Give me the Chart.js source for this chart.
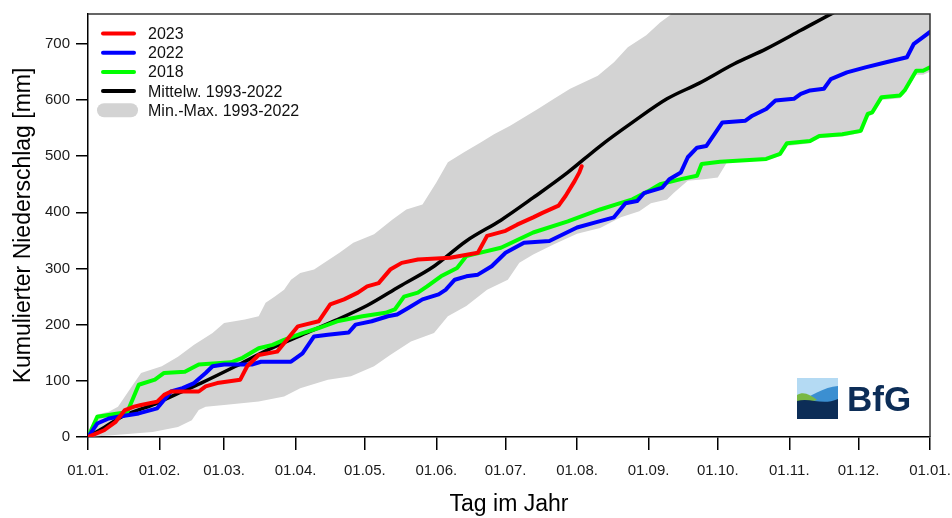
<!DOCTYPE html>
<html>
<head>
<meta charset="utf-8">
<script src="https://cdn.jsdelivr.net/npm/chart.js@4.4.0/dist/chart.umd.min.js"></script>
<style>
  body { margin: 0; background: #fff; }
  canvas { display: block; }
</style>
</head>
<body>
<canvas id="niederschlagChart" width="952" height="518"></canvas>
<script>
// x axis: day of year, ticks at the first of each month
const monthDays = [0, 31, 59, 90, 120, 151, 181, 212, 243, 273, 304, 334, 365];
const monthLabels = ['01.01.', '01.02.', '01.03.', '01.04.', '01.05.', '01.06.', '01.07.', '01.08.', '01.09.', '01.10.', '01.11.', '01.12.', '01.01.'];
const yTicks = [0, 100, 200, 300, 400, 500, 600, 700];

// 2023
const days2023 = [0, 7, 12, 16, 20, 23, 30, 33, 36, 48, 51, 56, 66, 69, 74, 82, 85, 91, 100, 105, 111, 117, 121, 126, 131, 136, 143, 157, 169, 173, 181, 186, 193, 197, 204, 207, 211, 213, 214];
const mm2023 = [0, 12, 27, 48, 54, 57, 63, 75, 81, 81, 90, 96, 102, 126, 146, 152, 167, 197, 206, 236, 245, 257, 268, 274, 298, 310, 316, 319, 328, 358, 367, 378, 391, 399, 412, 429, 456, 471, 482];

// 2022
const days2022 = [0, 4, 9, 13, 22, 30, 36, 41, 46, 51, 54, 59, 71, 75, 88, 93, 98, 104, 113, 116, 123, 130, 134, 139, 145, 152, 155, 159, 164, 169, 175, 181, 185, 189, 200, 212, 220, 228, 233, 238, 241, 249, 252, 257, 260, 264, 268, 272, 275, 285, 288, 294, 298, 306, 309, 313, 319, 322, 329, 337, 346, 355, 358, 362, 365];
const mm2022 = [0, 24, 33, 36, 42, 51, 81, 87, 96, 114, 126, 129, 129, 134, 134, 149, 179, 182, 186, 200, 206, 215, 218, 230, 245, 254, 262, 280, 286, 289, 304, 328, 337, 346, 349, 373, 382, 391, 416, 420, 434, 444, 459, 471, 498, 515, 518, 542, 560, 563, 572, 584, 599, 602, 611, 617, 620, 637, 649, 658, 667, 676, 700, 712, 721];

// 2018
const days2018 = [0, 4, 13, 17, 22, 29, 33, 42, 48, 62, 67, 74, 80, 85, 93, 100, 108, 119, 129, 133, 137, 143, 147, 153, 160, 164, 167, 179, 193, 208, 222, 229, 236, 244, 248, 257, 264, 266, 274, 294, 300, 303, 313, 317, 327, 335, 338, 340, 344, 352, 354, 359, 362, 365];
const mm2018 = [0, 36, 42, 44, 93, 102, 114, 116, 129, 133, 141, 158, 164, 173, 185, 194, 206, 215, 221, 227, 250, 257, 268, 286, 301, 322, 325, 337, 364, 384, 405, 414, 423, 440, 450, 459, 465, 486, 490, 495, 504, 523, 527, 536, 539, 545, 575, 578, 605, 608, 617, 652, 652, 658];

// Mittelwert 1993-2022
const daysMean = [0, 7, 16, 28, 36, 49, 64, 78, 93, 107, 121, 135, 150, 164, 179, 193, 208, 222, 236, 251, 265, 280, 294, 309, 323, 335, 350, 365];
const mmMean = [0, 17, 39, 57, 72, 96, 126, 155, 182, 207, 234, 268, 304, 349, 386, 426, 471, 518, 560, 602, 630, 664, 691, 724, 755, 780, 805, 830];

// Min-Max 1993-2022
const daysMax = [0, 4, 9, 13, 18, 23, 32, 39, 46, 54, 59, 68, 74, 77, 81, 85, 88, 92, 98, 109, 115, 124, 132, 138, 145, 151, 156, 163, 170, 176, 183, 195, 202, 209, 221, 228, 234, 242, 248, 254, 270, 300, 335, 365];
const mmMax = [0, 40, 45, 54, 84, 114, 126, 143, 164, 185, 203, 209, 215, 239, 250, 262, 280, 292, 298, 328, 346, 361, 387, 405, 414, 453, 489, 507, 524, 539, 554, 584, 602, 620, 643, 667, 694, 715, 738, 756, 800, 880, 960, 1030];
const daysMin = [0, 13, 28, 39, 45, 48, 51, 59, 74, 85, 92, 104, 114, 124, 131, 140, 150, 156, 164, 173, 182, 187, 193, 202, 212, 222, 231, 239, 244, 251, 254, 260, 267, 273, 277, 294, 300, 303, 313, 317, 327, 335, 338, 340, 344, 352, 354, 359, 362, 365];
const mmMin = [0, 4, 9, 18, 30, 48, 54, 57, 63, 72, 87, 102, 108, 126, 146, 170, 185, 215, 233, 262, 280, 310, 325, 343, 362, 372, 391, 402, 416, 423, 435, 456, 459, 462, 489, 492, 500, 518, 523, 532, 535, 541, 570, 574, 600, 603, 612, 645, 645, 650];

const FONT = '"Liberation Sans", Arial, Helvetica, sans-serif';

function toPoints(days, values) {
    return days.map(function (d, i) { return { x: d, y: values[i] }; });
}

// legend drawn inside the plot, top left
const insideLegend = {
    id: 'insideLegend',
    afterDraw: function (chart) {
        const ctx = chart.ctx;
        const left = chart.chartArea.left;
        let y = chart.chartArea.top + 19.5;
        ctx.save();
        ctx.font = '16px ' + FONT;
        ctx.textBaseline = 'middle';
        ctx.fillStyle = '#111';
        chart.data.datasets.forEach(function (ds) {
            if (!ds.legendText) return;
            if (ds.fill) {
                ctx.fillStyle = ds.backgroundColor;
                ctx.beginPath();
                ctx.roundRect(left + 9, y - 7, 41, 14, 7);
                ctx.fill();
            } else {
                ctx.strokeStyle = ds.borderColor;
                ctx.lineWidth = 4;
                ctx.lineCap = 'round';
                ctx.beginPath();
                ctx.moveTo(left + 15, y);
                ctx.lineTo(left + 46, y);
                ctx.stroke();
            }
            ctx.fillStyle = '#111';
            ctx.fillText(ds.legendText, left + 60, y + 1);
            y += 19.2;
        });
        ctx.restore();
    }
};

// top and right frame lines plus the BfG logo
const frameAndLogo = {
    id: 'frameAndLogo',
    afterDraw: function (chart) {
        const ctx = chart.ctx;
        const a = chart.chartArea;
        ctx.save();
        ctx.strokeStyle = '#333';
        ctx.lineWidth = 1.5;
        ctx.beginPath();
        ctx.moveTo(a.left, a.top);
        ctx.lineTo(a.right, a.top);
        ctx.lineTo(a.right, a.bottom);
        ctx.stroke();

        // logo square
        const lx = 797, ly = 378, s = 41;
        ctx.fillStyle = '#b4daf3';
        ctx.fillRect(lx, ly, s, s);
        ctx.fillStyle = '#3b8fd1';
        ctx.beginPath();
        ctx.moveTo(lx, ly + 25);
        ctx.bezierCurveTo(lx + 14, ly + 18, lx + 27, ly + 9, lx + s, ly + 8);
        ctx.lineTo(lx + s, ly + s);
        ctx.lineTo(lx, ly + s);
        ctx.closePath();
        ctx.fill();
        ctx.fillStyle = '#79b844';
        ctx.beginPath();
        ctx.moveTo(lx, ly + 17);
        ctx.bezierCurveTo(lx + 7, ly + 13, lx + 13, ly + 17, lx + 20, ly + 22);
        ctx.lineTo(lx, ly + 27);
        ctx.closePath();
        ctx.fill();
        ctx.fillStyle = '#0c2d57';
        ctx.beginPath();
        ctx.moveTo(lx, ly + 23);
        ctx.bezierCurveTo(lx + 13, ly + 19, lx + 25, ly + 28, lx + s, ly + 21);
        ctx.lineTo(lx + s, ly + s);
        ctx.lineTo(lx, ly + s);
        ctx.closePath();
        ctx.fill();

        ctx.fillStyle = '#0c2d57';
        ctx.font = 'bold 35px ' + FONT;
        ctx.textBaseline = 'alphabetic';
        ctx.fillText('BfG', 847, 411);
        ctx.restore();
    }
};

const ctx = document.getElementById('niederschlagChart').getContext('2d');
new Chart(ctx, {
    type: 'line',
    data: {
        datasets: [
            { legendText: '2023', data: toPoints(days2023, mm2023), borderColor: '#ff0000', borderWidth: 4 },
            { legendText: '2022', data: toPoints(days2022, mm2022), borderColor: '#0000ff', borderWidth: 4 },
            { legendText: '2018', data: toPoints(days2018, mm2018), borderColor: '#00ff00', borderWidth: 4 },
            { legendText: 'Mittelw. 1993-2022', data: toPoints(daysMean, mmMean), borderColor: '#000000', borderWidth: 3.5,
              cubicInterpolationMode: 'monotone' },
            { legendText: 'Min.-Max. 1993-2022', data: toPoints(daysMax, mmMax), borderWidth: 0, borderColor: 'rgba(0,0,0,0)',
              backgroundColor: '#d3d3d3', fill: '+1' },
            { data: toPoints(daysMin, mmMin), borderWidth: 0, borderColor: 'rgba(0,0,0,0)', fill: false }
        ]
    },
    options: {
        responsive: false,
        animation: false,
        elements: {
            point: { radius: 0, hoverRadius: 0 },
            line: { tension: 0, borderJoinStyle: 'round', borderCapStyle: 'round' }
        },
        layout: { padding: { top: 14, right: 22, left: 0, bottom: 0 } },
        plugins: {
            legend: { display: false },
            tooltip: { enabled: false }
        },
        scales: {
            x: {
                type: 'linear',
                min: 0,
                max: 365,
                afterBuildTicks: function (scale) {
                    scale.ticks = monthDays.map(function (d) { return { value: d }; });
                },
                afterFit: function (scale) {
                    scale.height = 81;
                    scale.paddingLeft = 0;
                    scale.paddingRight = 0;
                },
                ticks: {
                    autoSkip: false,
                    maxRotation: 0,
                    padding: 12,
                    color: '#1a1a1a',
                    font: { family: FONT, size: 15 },
                    callback: function (value, index) {
                        return monthLabels[index];
                    }
                },
                grid: { drawOnChartArea: false, drawTicks: true, tickLength: 13, color: '#000', lineWidth: 1.5 },
                border: { display: true, color: '#000', width: 1.5 },
                title: {
                    display: true,
                    text: 'Tag im Jahr',
                    color: '#000',
                    font: { family: FONT, size: 23 },
                    padding: { top: 0, bottom: 0 }
                }
            },
            y: {
                min: 0,
                max: 753,
                afterBuildTicks: function (scale) {
                    scale.ticks = yTicks.map(function (v) { return { value: v }; });
                },
                afterFit: function (scale) {
                    scale.width = 88;
                    scale.paddingTop = 0;
                    scale.paddingBottom = 0;
                },
                ticks: {
                    padding: 6,
                    color: '#1a1a1a',
                    font: { family: FONT, size: 15 }
                },
                grid: { drawOnChartArea: false, drawTicks: true, tickLength: 12, color: '#000', lineWidth: 1.5 },
                border: { display: true, color: '#000', width: 1.5 },
                title: {
                    display: true,
                    text: 'Kumulierter Niederschlag [mm]',
                    color: '#000',
                    font: { family: FONT, size: 23 },
                    padding: { top: 10, bottom: 0 }
                }
            }
        }
    },
    plugins: [insideLegend, frameAndLogo]
});
</script>
</body>
</html>
